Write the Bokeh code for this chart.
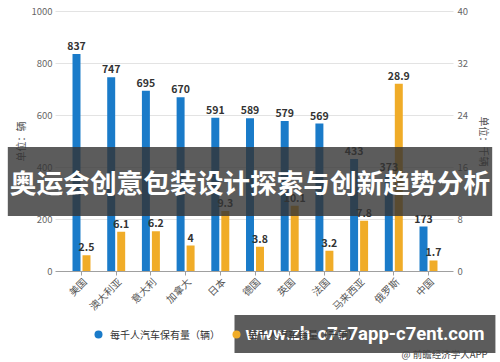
import math
from bokeh.plotting import figure
from bokeh.models import (ColumnDataSource, Range1d, LinearAxis, FixedTicker,
                          Label, Legend, LegendItem)
from bokeh.transform import dodge
from bokeh.core.properties import value
from bokeh.embed import file_html
from bokeh.resources import INLINE

# ---------------- data ----------------
countries = ["美国", "澳大利亚", "意大利", "加拿大", "日本", "德国", "英国", "法国", "马来西亚", "俄罗斯", "中国"]
cars_per_1000 = [837, 747, 695, 670, 591, 589, 579, 569, 433, 373, 173]
second_series = [2.5, 6.1, 6.2, 4, 9.3, 3.8, 10.1, 3.2, 7.8, 28.9, 1.7]
left_ticks = [0, 200, 400, 600, 800, 1000]
right_ticks = [0, 8, 16, 24, 32, 40]
series_names = ["每千人汽车保有量（辆）", "每千人汽车销量（千辆）"]
left_title = "单位：辆"
right_title = "单位：千辆"
banner_title = "奥运会创意包装设计探索与创新趋势分析"
banner_url = "www.zh-c7c7app-c7ent.com"
source_note = "@ 前瞻经济学人APP"

# ---------------- layout (pixels) ----------------
W, H = 500, 362
PLOT_L, PLOT_R, PLOT_T, PLOT_B = 55, 453, 11, 271
CAT0_PX, CAT_PX = 81.0, 34.7
BAR_OFF, BAR_W = 0.144, 0.23

BLUE = "#1a7bc9"
ORANGE = "#f0ac28"
FONT = "Noto Sans CJK SC"


def xs(px):
    return (px - CAT0_PX) / CAT_PX


ppu_l = (PLOT_B - PLOT_T) / left_ticks[-1]
ppu_r = (PLOT_B - PLOT_T) / right_ticks[-1]

idx = list(range(len(countries)))
src = ColumnDataSource(dict(
    idx=idx,
    country=countries,
    blue=cars_per_1000,
    orange=second_series,
    blue_lbl=[str(v) for v in cars_per_1000],
    orange_lbl=[str(v) for v in second_series],
))

p = figure(width=W, height=H, output_backend="svg", toolbar_location=None,
           title_location=None,
           x_range=Range1d(xs(0), xs(W)),
           y_range=Range1d(-(H - PLOT_B) / ppu_l, left_ticks[-1] + PLOT_T / ppu_l),
           min_border=0, min_border_left=0, min_border_right=0,
           min_border_top=0, min_border_bottom=0,
           x_axis_type=None, y_axis_type=None)
p.extra_y_ranges = {"right": Range1d(-(H - PLOT_B) / ppu_r, right_ticks[-1] + PLOT_T / ppu_r)}
p.outline_line_color = None
p.background_fill_color = "white"
p.border_fill_color = "white"
p.xgrid.visible = False
p.ygrid.visible = False

# grid lines
grid_y = [t for t in left_ticks if t > 0]
p.segment(x0=[xs(PLOT_L)] * len(grid_y), x1=[xs(PLOT_R)] * len(grid_y),
          y0=grid_y, y1=grid_y, line_color="#e3e3e3", line_width=1)

# bars
p.vbar(x=dodge("idx", -BAR_OFF), top="blue", width=BAR_W,
       source=src, fill_color=BLUE, line_color=None)
p.vbar(x=dodge("idx", BAR_OFF), top="orange", width=BAR_W,
       source=src, fill_color=ORANGE, line_color=None, y_range_name="right")

# value labels
p.text(x=dodge("idx", -BAR_OFF), y="blue", text="blue_lbl", source=src,
       text_align="center", text_baseline="bottom", y_offset=-4,
       text_font=value(FONT), text_font_size="10.5px", text_font_style="bold", text_color="#333333")
p.text(x=dodge("idx", BAR_OFF), y="orange", text="orange_lbl", source=src,
       y_range_name="right",
       text_align="center", text_baseline="bottom", y_offset=-4,
       text_font=value(FONT), text_font_size="10.5px", text_font_style="bold", text_color="#333333")

# x axis (line + ticks); category names drawn rotated at the ticks
ax_x = LinearAxis(fixed_location=0, ticker=FixedTicker(ticks=idx),
                  bounds=(xs(PLOT_L), xs(PLOT_R)))
ax_x.axis_line_color = "#a0a0a0"
ax_x.major_tick_line_color = "#a0a0a0"
ax_x.minor_tick_line_color = None
ax_x.major_tick_out = 4
ax_x.major_tick_in = 0
ax_x.major_label_text_color = None
p.add_layout(ax_x, "below")

p.text(x="idx", y=0, text="country", source=src, angle=math.pi / 4,
       text_align="right", text_baseline="middle", x_offset=3, y_offset=8,
       text_font=value(FONT), text_font_size="10px", text_color="#555555")

# left axis
ax_l = LinearAxis(fixed_location=xs(PLOT_L), ticker=FixedTicker(ticks=left_ticks),
                  bounds=(left_ticks[0], left_ticks[-1]))
ax_l.axis_line_color = None
ax_l.major_tick_line_color = None
ax_l.minor_tick_line_color = None
ax_l.major_tick_out = 0
ax_l.major_tick_in = 0
ax_l.major_label_text_font = FONT
ax_l.major_label_text_font_size = "9.5px"
ax_l.major_label_text_color = "#666666"
ax_l.major_label_standoff = 3
ax_l.axis_label = left_title
ax_l.axis_label_text_font = FONT
ax_l.axis_label_text_font_size = "10px"
ax_l.axis_label_text_font_style = "normal"
ax_l.axis_label_text_color = "#555555"
ax_l.axis_label_standoff = 0
p.add_layout(ax_l, "left")

# right axis
ax_r = LinearAxis(y_range_name="right", fixed_location=xs(PLOT_R),
                  ticker=FixedTicker(ticks=right_ticks),
                  bounds=(right_ticks[0], right_ticks[-1]))
ax_r.axis_line_color = None
ax_r.major_tick_line_color = None
ax_r.minor_tick_line_color = None
ax_r.major_tick_out = 0
ax_r.major_tick_in = 0
ax_r.major_label_text_font = FONT
ax_r.major_label_text_font_size = "9.5px"
ax_r.major_label_text_color = "#666666"
ax_r.major_label_standoff = 4
ax_r.axis_label = right_title
ax_r.axis_label_text_font = FONT
ax_r.axis_label_text_font_size = "10px"
ax_r.axis_label_text_font_style = "normal"
ax_r.axis_label_text_color = "#555555"
ax_r.axis_label_standoff = 6
p.add_layout(ax_r, "right")

# legend with circle markers (size-0 scatter renderers supply the legend glyphs)
d_blue = p.scatter(x=dodge("idx", -BAR_OFF), y="blue", source=src, size=0,
                   marker="circle", fill_color=BLUE, line_color=None)
d_orange = p.scatter(x=dodge("idx", BAR_OFF), y="orange", source=src, size=0,
                     y_range_name="right", marker="circle", fill_color=ORANGE, line_color=None)
legend = Legend(items=[LegendItem(label=series_names[0], renderers=[d_blue]),
                       LegendItem(label=series_names[1], renderers=[d_orange])],
                location=(88, H - 344), orientation="horizontal",
                border_line_color=None, background_fill_alpha=0,
                label_text_font=FONT, label_text_font_size="10px", label_text_color="#333333",
                glyph_width=20, glyph_height=20, spacing=6, padding=0, margin=0,
                label_standoff=2)
p.add_layout(legend, "center")

# overlay banners
p.add_layout(Label(x=249.5, y=H - 181, x_units="screen", y_units="screen", text=banner_title,
                   text_font=FONT, text_font_size="26.7px", text_font_style="bold",
                   text_color="white", text_align="center", text_baseline="middle",
                   background_fill_color="#333333", background_fill_alpha=0.8,
                   padding=dict(left=2, right=2, top=15, bottom=15)))
p.add_layout(Label(x=234, y=H - 333.5, x_units="screen", y_units="screen", text=banner_url,
                   text_font="Roboto", text_font_size="18.5px", text_font_style="bold",
                   text_color="white", text_align="left", text_baseline="middle",
                   background_fill_color="#333333", background_fill_alpha=0.8,
                   padding=dict(left=11, right=11, top=8, bottom=8)))

# source note
p.add_layout(Label(x=487, y=H - 353, x_units="screen", y_units="screen", text=source_note,
                   text_font=FONT, text_font_size="9.5px", text_color="#444444",
                   text_align="right", text_baseline="middle"))

open("out.html", "w").write(file_html(p, INLINE))
